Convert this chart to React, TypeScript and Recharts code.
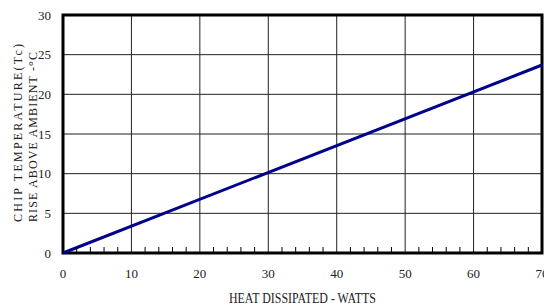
import { LineChart, Line, XAxis, YAxis, CartesianGrid, ReferenceArea } from 'recharts';

// ── Data ──────────────────────────────────────────────────────────────────────

const WATTS = [0, 70];
const TEMP_RISE = [0, 23.7];

const X_MAJOR = [0, 10, 20, 30, 40, 50, 60, 70];
const X_MINOR = [2, 4, 6, 8, 12, 14, 16, 18, 22, 24, 26, 28, 32, 34, 36, 38, 42, 44, 46, 48, 52, 54, 56, 58, 62, 64, 66, 68];
const Y_TICKS = [0, 5, 10, 15, 20, 25, 30];

const X_TITLE = 'HEAT DISSIPATED - WATTS';
const Y_TITLE_1 = 'CHIP TEMPERATURE(Tc)';
const Y_TITLE_2 = 'RISE ABOVE AMBIENT -°C';

const data = WATTS.map((w, i) => ({ w, t: TEMP_RISE[i] }));
const allXTicks = [...X_MAJOR, ...X_MINOR].sort((a, b) => a - b);

const FONT = '"Liberation Serif", "Times New Roman", serif';

// ── X tick: labels on majors, short inward marks on minors ───────────────────

function XTick({ x, y, payload }: { x?: number; y?: number; payload?: { value: number } }) {
  const v = payload?.value ?? 0;
  if (X_MAJOR.includes(v)) {
    return (
      <text x={x} y={(y ?? 0) + 25} textAnchor="middle" fontFamily={FONT} fontSize={13} fill="#222">
        {v}
      </text>
    );
  }
  return <line x1={x} x2={x} y1={(y ?? 0) - 6} y2={y} stroke="#000" strokeWidth={1} />;
}

export default function App() {
  return (
    <div style={{ position: 'absolute', left: 0, top: 0, width: 544, height: 305, background: '#fff' }}>
      <LineChart width={544} height={305} data={data} margin={{ top: 15, right: 2, left: 0, bottom: 0 }}>
        <CartesianGrid stroke="#222" strokeWidth={1} verticalValues={X_MAJOR} horizontalValues={Y_TICKS} />
        <XAxis
          dataKey="w"
          type="number"
          domain={[0, 70]}
          ticks={allXTicks}
          interval={0}
          height={52}
          tickSize={0}
          tickMargin={0}
          axisLine={false}
          tick={<XTick />}
        />
        <YAxis
          type="number"
          domain={[0, 30]}
          ticks={Y_TICKS}
          interval={0}
          width={63}
          tickSize={0}
          tickMargin={12}
          axisLine={false}
          tick={{ fontFamily: FONT, fontSize: 13, fill: '#222' }}
        />
        <ReferenceArea x1={0} x2={70} y1={0} y2={30} fill="none" stroke="#000" strokeWidth={3} ifOverflow="visible" />
        <Line
          type="linear"
          dataKey="t"
          stroke="#00008b"
          strokeWidth={3}
          dot={false}
          isAnimationActive={false}
        />
      </LineChart>

      {/* Axis titles */}
      <svg width={544} height={305} style={{ position: 'absolute', left: 0, top: 0, pointerEvents: 'none' }}>
        <text x={229} y={303} fontFamily={FONT} fontSize={14} fill="#222" textLength={147} lengthAdjust="spacingAndGlyphs">
          {X_TITLE}
        </text>
        <text
          transform="translate(22,222) rotate(-90)"
          fontFamily={FONT}
          fontSize={12}
          fill="#222"
          textLength={178}
          lengthAdjust="spacing"
        >
          {Y_TITLE_1}
        </text>
        <text
          transform="translate(37,222) rotate(-90)"
          fontFamily={FONT}
          fontSize={12}
          fill="#222"
          textLength={170}
          lengthAdjust="spacing"
        >
          {Y_TITLE_2}
        </text>
      </svg>
    </div>
  );
}
